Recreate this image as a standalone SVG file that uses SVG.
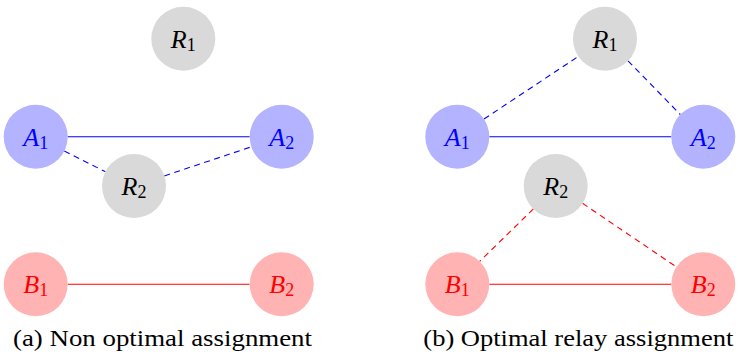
<svg xmlns="http://www.w3.org/2000/svg" width="739" height="355" viewBox="0 0 739 355">
<style>
.gray{fill:#d9d9d9}
.blue{fill:#b3b3ff}
.red{fill:#ffb3b3}
.lbl{font-family:"Liberation Serif","DejaVu Serif",serif;font-style:italic;font-size:26px;text-anchor:middle}
.sub{font-style:normal;font-size:18px}
.kb{fill:#000}
.kB{fill:#0000ff}
.kR{fill:#ff0000}
.cap{font-family:"Liberation Serif","DejaVu Serif",serif;font-size:23px;fill:#000}
.sb{stroke:#0000ff;stroke-width:1.1;fill:none}
.sr{stroke:#ff0000;stroke-width:1.1;fill:none}
.d{stroke-dasharray:6 4.5}
</style>
<rect width="739" height="355" fill="#fff"/>
<g id="connectors">
<line class="sb" x1="67.7" y1="136.7" x2="249.7" y2="136.7"/>
<line class="sb d" x1="64.3" y1="151" x2="105.4" y2="171.7"/>
<line class="sb d" x1="164.3" y1="175.9" x2="251.4" y2="146.8"/>
<line class="sr" x1="67.7" y1="284.3" x2="249.7" y2="284.3"/>
<line class="sb" x1="489.3" y1="136.7" x2="671.3" y2="136.7"/>
<line class="sb d" x1="484" y1="119" x2="578.4" y2="56.4"/>
<line class="sb d" x1="628" y1="60.9" x2="680.3" y2="114.5"/>
<line class="sr" x1="489.3" y1="284.3" x2="671.3" y2="284.3"/>
<line class="sr d" x1="533.4" y1="208.9" x2="479.6" y2="261.4"/>
<line class="sr d" x1="582.5" y1="203.3" x2="676.5" y2="267"/>
</g>
<g id="a-R1"><circle class="gray" cx="183.3" cy="38.7" r="32"/><text class="lbl kb" x="183.3" y="47.5">R<tspan class="sub" dy="3">1</tspan></text></g>
<g id="a-A1"><circle class="blue" cx="35.7" cy="136.7" r="32"/><text class="lbl kB" x="35.7" y="145.5">A<tspan class="sub" dy="3">1</tspan></text></g>
<g id="a-A2"><circle class="blue" cx="281.7" cy="136.7" r="32"/><text class="lbl kB" x="281.7" y="145.5">A<tspan class="sub" dy="3">2</tspan></text></g>
<g id="a-R2"><circle class="gray" cx="134" cy="186" r="32"/><text class="lbl kb" x="134" y="194.8">R<tspan class="sub" dy="3">2</tspan></text></g>
<g id="a-B1"><circle class="red" cx="35.7" cy="284.3" r="32"/><text class="lbl kR" x="35.7" y="293.1">B<tspan class="sub" dy="3">1</tspan></text></g>
<g id="a-B2"><circle class="red" cx="281.7" cy="284.3" r="32"/><text class="lbl kR" x="281.7" y="293.1">B<tspan class="sub" dy="3">2</tspan></text></g>
<g id="b-R1"><circle class="gray" cx="605" cy="38.7" r="32"/><text class="lbl kb" x="605" y="47.5">R<tspan class="sub" dy="3">1</tspan></text></g>
<g id="b-A1"><circle class="blue" cx="457.3" cy="136.7" r="32"/><text class="lbl kB" x="457.3" y="145.5">A<tspan class="sub" dy="3">1</tspan></text></g>
<g id="b-A2"><circle class="blue" cx="703.3" cy="136.7" r="32"/><text class="lbl kB" x="703.3" y="145.5">A<tspan class="sub" dy="3">2</tspan></text></g>
<g id="b-R2"><circle class="gray" cx="555.7" cy="186" r="32"/><text class="lbl kb" x="555.7" y="194.8">R<tspan class="sub" dy="3">2</tspan></text></g>
<g id="b-B1"><circle class="red" cx="457.3" cy="284.3" r="32"/><text class="lbl kR" x="457.3" y="293.1">B<tspan class="sub" dy="3">1</tspan></text></g>
<g id="b-B2"><circle class="red" cx="703.3" cy="284.3" r="32"/><text class="lbl kR" x="703.3" y="293.1">B<tspan class="sub" dy="3">2</tspan></text></g>
<text class="cap" x="13" y="346" textLength="299" lengthAdjust="spacingAndGlyphs">(a) Non optimal assignment</text>
<text class="cap" x="423.3" y="346" textLength="310" lengthAdjust="spacingAndGlyphs">(b) Optimal relay assignment</text>
</svg>
